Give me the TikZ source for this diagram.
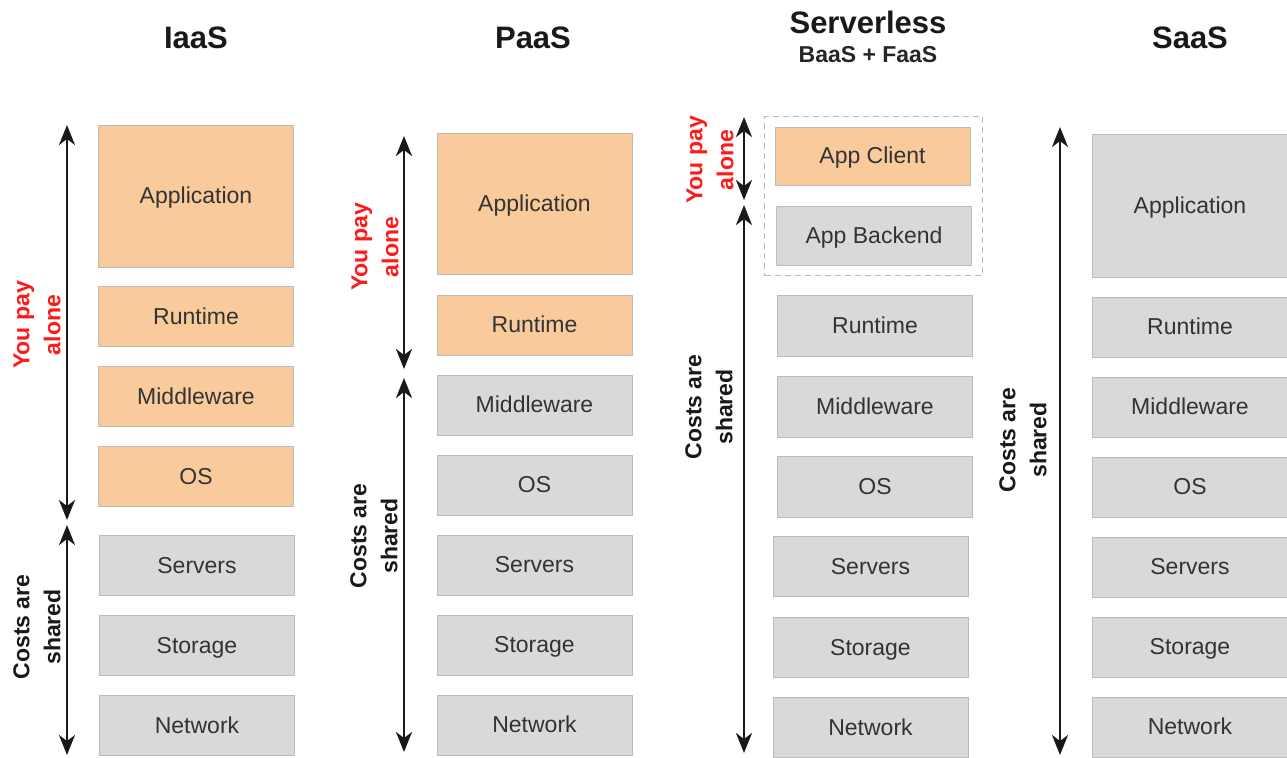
\documentclass[tikz,border=0pt]{standalone}
\usepackage{fontspec}
\setmainfont{Liberation Sans}
\usetikzlibrary{arrows.meta}
\usetikzlibrary{fit}

\definecolor{paycol}{HTML}{F9CB9C}
\definecolor{sharecol}{HTML}{D9D9D9}
\definecolor{edgecol}{HTML}{BCBCBC}
\definecolor{alonered}{HTML}{FF1A1A}

\tikzset{
  stackbox/.style={draw=edgecol, line width=0.5pt, minimum width=97.5pt, minimum height=30pt,
    inner sep=0pt, text height=8.4pt, text depth=0.6pt, text=black!80, font=\fontsize{11.5}{13}\selectfont},
  own/.style={stackbox, fill=paycol},
  shared/.style={stackbox, fill=sharecol},
  costline/.style={line width=1.2pt, black!90,
    {Stealth[length=10pt,width=8pt,inset=3pt]}-{Stealth[length=10pt,width=8pt,inset=3pt]}},
  sidenote/.style={rotate=90, align=center, inner sep=0pt, font=\bfseries\fontsize{11.5}{15.5}\selectfont},
  coltitle/.style={text=black!90, font=\bfseries\fontsize{15.5}{18}\selectfont},
  subtitle/.style={text=black!85, font=\bfseries\fontsize{11.5}{13}\selectfont}
}

\begin{document}
\begin{tikzpicture}[x=0.5pt,y=-0.5pt]
      \useasboundingbox (0,0) rectangle (1287,757);
      \node[coltitle] (iaas) at (196,38) {IaaS};
      \node[coltitle] (paas) at (533,38) {PaaS};
      \node[coltitle] (srvless) at (868,22) {Serverless};
      \node[subtitle] (baasfaas) at (868,55) {BaaS + FaaS};
      \node[coltitle] (saas) at (1190,38) {SaaS};
      % IaaS
      \node[own, minimum height=71pt] (i-app) at (196,196) {Application};
      \foreach \n/\t/\y in {run/Runtime/316.5, mid/Middleware/396.5, os/OS/476.5}
	\node[own] (i-\n) at (196,\y) {\t};
      \foreach \n/\t/\y in {srv/Servers/565.5, sto/Storage/645.5, net/Network/725.5}
	\node[shared] (i-\n) at (197,\y) {\t};
      \coordinate (i-a1) at (67,125); \coordinate (i-a2) at (67,520);
      \coordinate (i-a3) at (67,525); \coordinate (i-a4) at (67,755);
      \draw[costline] (i-a1) -- (i-a2);
      \draw[costline] (i-a3) -- (i-a4);
      \node[sidenote, text=alonered] (i-alone) at (37,325) {You pay\\alone};
      \node[sidenote, text=black!90] (i-shared) at (37,627) {Costs are\\shared};
      % PaaS
      \node[own, minimum height=70.5pt] (p-app) at (534.5,203.5) {Application};
      \node[own] (p-run) at (534.5,325) {Runtime};
      \foreach \n/\t/\y in {mid/Middleware/405, os/OS/485, srv/Servers/565, sto/Storage/645, net/Network/725}
	\node[shared] (p-\n) at (534.5,\y) {\t};
      \coordinate (p-a1) at (404,136); \coordinate (p-a2) at (404,369);
      \coordinate (p-a3) at (404,378); \coordinate (p-a4) at (404,752);
      \draw[costline] (p-a1) -- (p-a2);
      \draw[costline] (p-a3) -- (p-a4);
      \node[sidenote, text=alonered] (p-alone) at (375,247) {You pay\\alone};
      \node[sidenote, text=black!90] (p-shared) at (374,536) {Costs are\\shared};
      % Serverless
      \node[own, minimum height=29pt] (s-cli) at (872.5,156) {App Client};
      \node[shared, minimum height=29.5pt] (s-back) at (874,235.5) {App Backend};
      \node[draw=black!28, line width=0.5pt, dash pattern=on 3pt off 2pt, inner sep=5pt,
	fit=(s-cli)(s-back)] (s-group) {};
      \foreach \n/\t/\y in {run/Runtime/326, mid/Middleware/406.5, os/OS/486.5}
	\node[shared, minimum height=30.5pt] (s-\n) at (875,\y) {\t};
      \foreach \n/\t/\y in {srv/Servers/566.5, sto/Storage/647.5, net/Network/727.5}
	\node[shared] (s-\n) at (870.5,\y) {\t};
      \coordinate (s-a1) at (744,117); \coordinate (s-a2) at (744,200);
      \coordinate (s-a3) at (744,205); \coordinate (s-a4) at (744,753);
      \draw[costline] (s-a1) -- (s-a2);
      \draw[costline] (s-a3) -- (s-a4);
      \node[sidenote, text=alonered] (s-alone) at (710,160) {You pay\\alone};
      \node[sidenote, text=black!90] (s-shared) at (709,407) {Costs are\\shared};
      % SaaS
      \node[shared, minimum height=71.5pt] (a-app) at (1190,205.5) {Application};
      \foreach \n/\t/\y in {run/Runtime/327, mid/Middleware/407, os/OS/487, srv/Servers/567, sto/Storage/647, net/Network/727}
	\node[shared] (a-\n) at (1190,\y) {\t};
      \coordinate (a-a1) at (1060,127); \coordinate (a-a2) at (1060,755);
      \draw[costline] (a-a1) -- (a-a2);
      \node[sidenote, text=black!90] (a-shared) at (1023,440) {Costs are\\shared};
\end{tikzpicture}
\end{document}
